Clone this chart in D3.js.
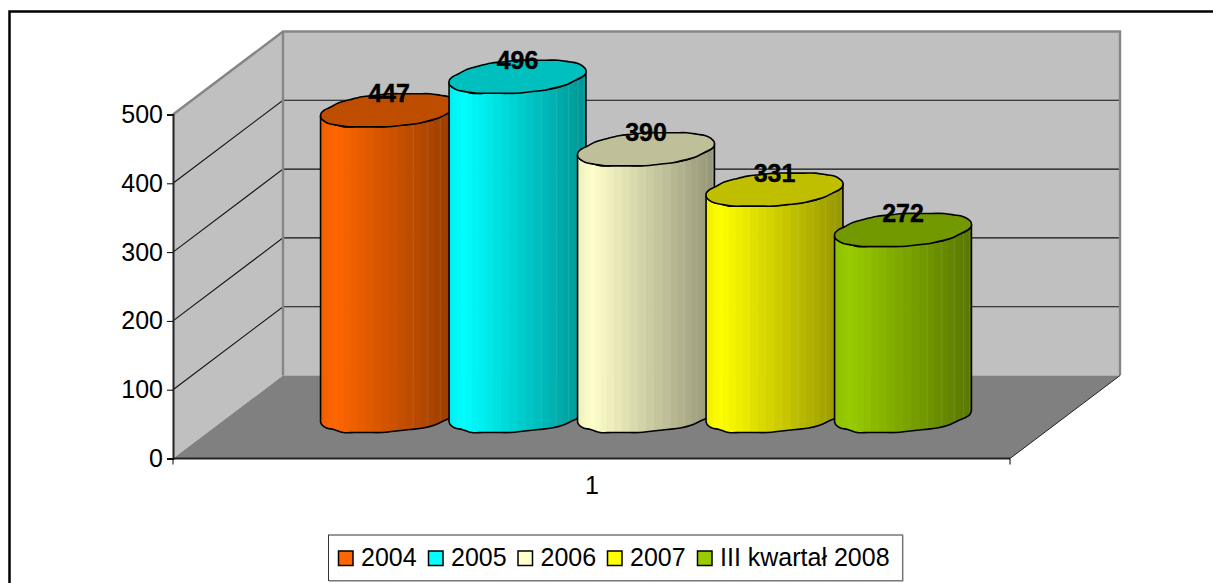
<!DOCTYPE html>
<html>
<head>
<meta charset="utf-8">
<script src="https://cdnjs.cloudflare.com/ajax/libs/d3/7.8.5/d3.min.js"></script>
<style>
  html, body { margin: 0; padding: 0; background: #fff; overflow: hidden; }
  svg { display: block; font-family: "Liberation Sans", Arial, sans-serif; }
</style>
</head>
<body>
<svg width="1213" height="583"></svg>
<script>
const categories = ["2004", "2005", "2006", "2007", "III kwartał 2008"];
const values = [447, 496, 390, 331, 272];
const colors = ["#FF6600", "#00FFFF", "#FFFFCC", "#FFFF00", "#99CC00"];
const tickValues = [0, 100, 200, 300, 400, 500];
const axisCategory = "1";

const svg = d3.select("svg");

// chart box, front plane plus the depth offset of the 3d walls
const x0 = 173, x1 = 1010, yBottom = 458.5, yTop = 114.5;
const depthX = 110, depthY = 83;

const y = d3.scaleLinear().domain([0, 500]).range([yBottom, yTop]);
const xBar = d3.scalePoint().domain(categories).range([389, 903]);
const yBar = d3.scaleLinear().domain([0, 500]).range([416, 74]);

// outer frame, runs off the right and bottom of the picture
svg.append("rect")
  .attr("x", 9.5).attr("y", 11.5)
  .attr("width", 1300).attr("height", 700)
  .attr("fill", "#fff").attr("stroke", "#000").attr("stroke-width", 2.5);

// walls and floor
const grey = "#868686";
svg.append("polygon")
  .attr("points", [[x0, yTop], [x0 + depthX, yTop - depthY], [x0 + depthX, yBottom - depthY], [x0, yBottom]].join(" "))
  .attr("fill", "#C0C0C0");
svg.append("rect")
  .attr("x", x0 + depthX).attr("y", yTop - depthY)
  .attr("width", x1 - x0).attr("height", yBottom - yTop)
  .attr("fill", "#C0C0C0");
svg.append("polygon")
  .attr("points", [[x0, yBottom], [x1, yBottom], [x1 + depthX, yBottom - depthY], [x0 + depthX, yBottom - depthY]].join(" "))
  .attr("fill", "#808080");

// gridlines on side and back wall
const grid = svg.append("g").attr("stroke", "#111").attr("stroke-width", 1.1).attr("fill", "none");
tickValues.filter(d => d > 0 && d < 500).forEach(d => {
  grid.append("polyline")
    .attr("points", [[x0, y(d)], [x0 + depthX, y(d) - depthY], [x1 + depthX, y(d) - depthY]].join(" "));
});

// wall edges
svg.append("polyline")
  .attr("points", [[x0, yTop], [x0 + depthX, yTop - depthY], [x1 + depthX, yTop - depthY], [x1 + depthX, yBottom - depthY]].join(" "))
  .attr("fill", "none").attr("stroke", grey).attr("stroke-width", 2.4);
svg.append("line")
  .attr("x1", x0 + depthX).attr("x2", x0 + depthX)
  .attr("y1", yTop - depthY).attr("y2", yBottom - depthY)
  .attr("stroke", grey).attr("stroke-width", 2.4);

// front floor edge
svg.append("line")
  .attr("x1", x0).attr("x2", x1).attr("y1", yBottom).attr("y2", yBottom)
  .attr("stroke", "#222").attr("stroke-width", 2);
svg.append("line")
  .attr("x1", x1).attr("x2", x1 + depthX).attr("y1", yBottom).attr("y2", yBottom - depthY)
  .attr("stroke", "#222").attr("stroke-width", 1);
svg.append("line")
  .attr("x1", x1).attr("x2", x1).attr("y1", yBottom).attr("y2", yBottom + 6)
  .attr("stroke", "#000").attr("stroke-width", 1);

// value axis
const axis = svg.append("g")
  .attr("transform", `translate(${x0},0)`)
  .call(d3.axisLeft(y).tickValues(tickValues).tickSize(6).tickPadding(4));
axis.select(".domain").attr("stroke", "#222").attr("stroke-width", 2);
axis.selectAll(".tick text").attr("font-size", 25).attr("font-family", "Liberation Sans").attr("fill", "#000");
axis.selectAll(".tick line").attr("stroke", "#000");

svg.append("line")
  .attr("x1", x0).attr("x2", x0).attr("y1", yBottom).attr("y2", yBottom + 6)
  .attr("stroke", "#000");

svg.append("text")
  .attr("x", 592).attr("y", 494)
  .attr("text-anchor", "middle").attr("font-size", 25)
  .text(axisCategory);

// cylinders: a skewed circle, the small y snap gives the bumpy outline of the original
const ux = 64.8, vx = 22, vy = -17.2;
const tRight = Math.atan2(vx, ux);
const snap = v => Math.round(v / 1.5) * 1.5;

function ringPoint(cx, cy, t) {
  return [cx + ux * Math.cos(t) + vx * Math.sin(t), cy + snap(vy * Math.sin(t))];
}
function arcPoints(cx, cy, from, to, n) {
  return d3.range(n + 1).map(i => ringPoint(cx, cy, from + (to - from) * i / n));
}
const curve = d3.line().curve(d3.curveCatmullRom.alpha(0.5));
const halfW = Math.hypot(ux, vx);

categories.forEach((cat, i) => {
  const cx = xBar(cat), base = yBar(0), top = yBar(values[i]);
  const id = "body" + i;
  const front = arcPoints(cx, base, tRight + Math.PI, tRight + 2 * Math.PI, 15);
  const frontTop = arcPoints(cx, top, tRight + 2 * Math.PI, tRight + Math.PI, 15);
  const bodyPath = curve(front) + "L" + curve(frontTop).slice(1) + "Z";

  svg.append("clipPath").attr("id", id).append("path").attr("d", bodyPath);

  const g = svg.append("g");
  const strips = g.append("g").attr("clip-path", `url(#${id})`);
  const n = 26;
  const shade = d3.scaleLinear().domain([0, 0.1, 1]).range([0.93, 1, 0.58]);
  d3.range(n).forEach(k => {
    const a = cx - halfW * Math.cos(Math.PI * k / n);
    const b = cx - halfW * Math.cos(Math.PI * (k + 1) / n);
    const f = (a + b) / 2;
    const c = d3.rgb(colors[i]);
    const s = shade((f - cx + halfW) / (2 * halfW));
    strips.append("rect")
      .attr("x", a).attr("width", b - a + 0.6)
      .attr("y", top - 40).attr("height", base - top + 80)
      .attr("fill", d3.rgb(c.r * s, c.g * s, c.b * s));
    // pale seams between the facets on the dark side
    if (k > 15 && k % 2 === 0) {
      strips.append("line")
        .attr("x1", a).attr("x2", a).attr("y1", top - 40).attr("y2", base + 40)
        .attr("stroke", "#fff").attr("stroke-opacity", 0.1).attr("stroke-width", 1);
    }
  });

  g.append("path").attr("d", bodyPath)
    .attr("fill", "none").attr("stroke", "#000").attr("stroke-width", 1.6);

  const c = d3.rgb(colors[i]);
  const ring = arcPoints(cx, top, 0, 2 * Math.PI, 30);
  g.append("path").attr("d", curve(ring) + "Z")
    .attr("fill", d3.rgb(c.r * 0.75, c.g * 0.75, c.b * 0.75))
    .attr("stroke", "#000").attr("stroke-width", 1.6);
});

// value labels go above all the bars
categories.forEach((cat, i) => {
  svg.append("text")
    .attr("x", xBar(cat)).attr("y", yBar(values[i]) - 8)
    .attr("text-anchor", "middle").attr("font-size", 25).attr("font-weight", "bold")
    .attr("stroke", "#000").attr("stroke-width", 0.4)
    .text(values[i]);
});

// legend
svg.append("rect")
  .attr("x", 328.5).attr("y", 535)
  .attr("width", 574).attr("height", 45.5)
  .attr("fill", "#fff").attr("stroke", "#333").attr("stroke-width", 1);
svg.append("polyline")
  .attr("points", "329,580.7 902.7,580.7 902.7,535")
  .attr("fill", "none").attr("stroke", "#777").attr("stroke-width", 1.5);
const legendX = [338.5, 428.5, 518, 607.5, 697.5];
categories.forEach((cat, i) => {
  const g = svg.append("g").attr("transform", `translate(${legendX[i]},551)`);
  g.append("rect").attr("width", 14.5).attr("height", 14.5)
    .attr("fill", colors[i]).attr("stroke", "#000").attr("stroke-width", 1.5);
  g.append("text").attr("x", 22.5).attr("y", 14.5)
    .attr("font-size", 25).text(cat);
});
</script>
</body>
</html>
